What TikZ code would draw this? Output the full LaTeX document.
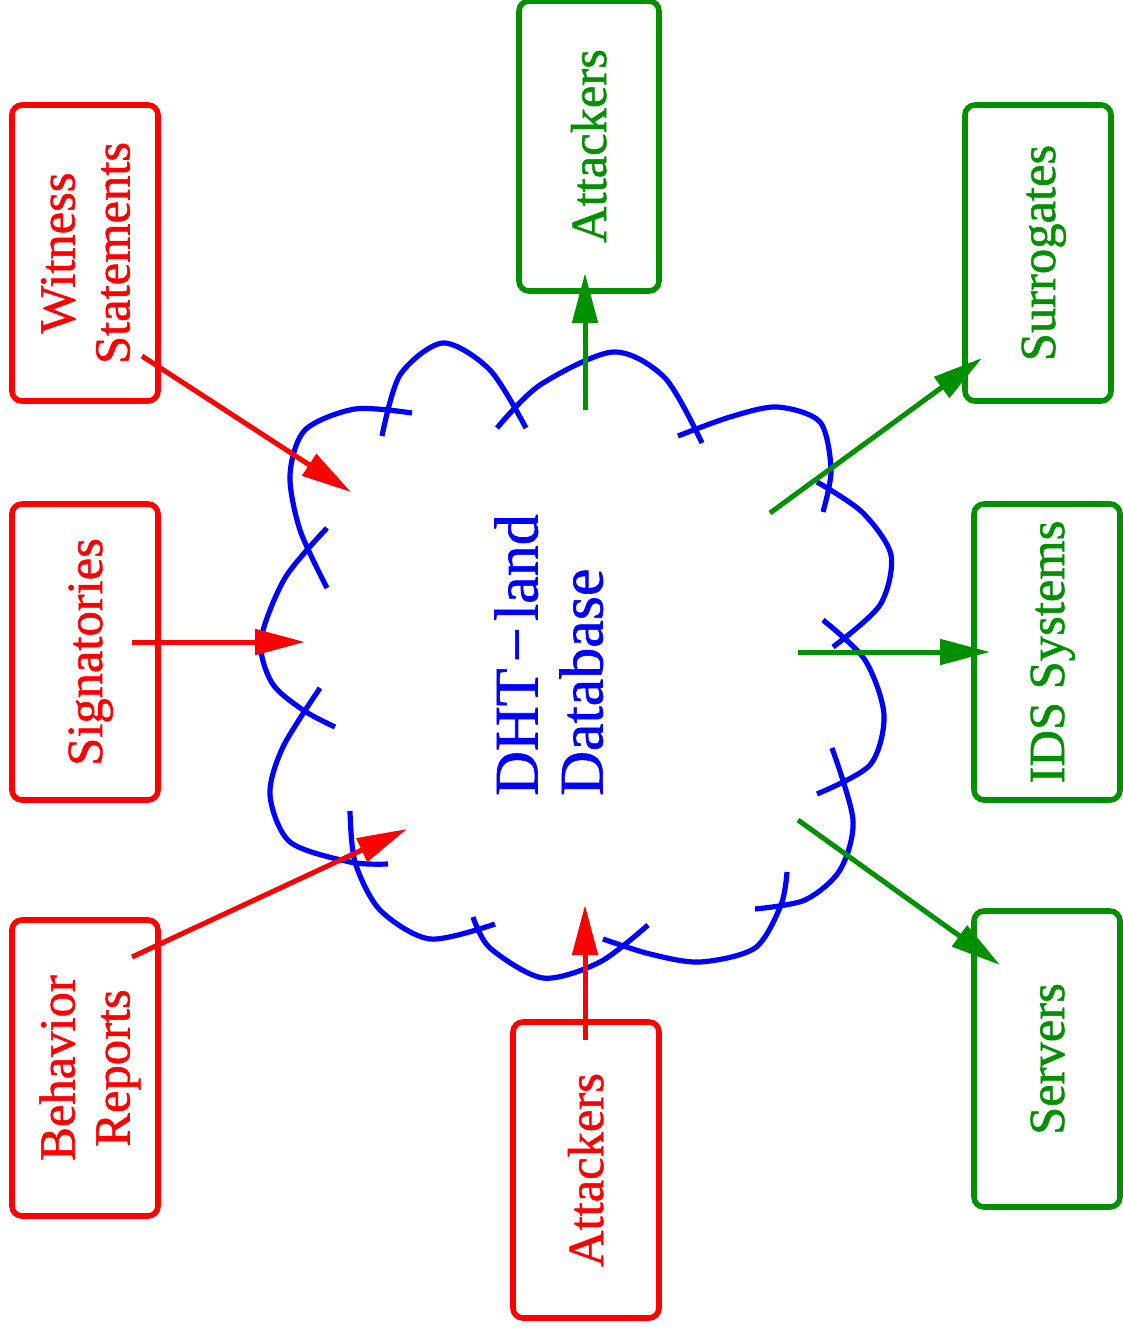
\documentclass[tikz,border=0pt]{standalone}
\usepackage{fontspec}
\setmainfont[FakeBold=1]{Liberation Serif}
\usetikzlibrary{arrows.meta}
\definecolor{figgreen}{RGB}{0,144,0}
\newcommand{\sidetext}[1]{\rotatebox{90}{\raisebox{-3pt}[\height][\depth]{\begin{tabular}{@{}c@{}}#1\end{tabular}}}}
\tikzstyle{redbox} = [rectangle, rounded corners=5pt, minimum width=73pt, minimum height=148pt, draw=red, line width=2.8pt, text=red, font=\fontsize{25.3}{27.5}\selectfont]
\tikzstyle{greenbox} = [rectangle, rounded corners=5pt, minimum width=73pt, minimum height=148pt, draw=figgreen, line width=2.8pt, text=figgreen, font=\fontsize{25.3}{27.5}\selectfont]
\tikzstyle{cloudline} = [draw=blue, line width=2.6pt]
\tikzstyle{redarrow} = [color=red, line width=2.5pt, -{Triangle[length=25pt,width=12.5pt]}]
\tikzstyle{greenarrow} = [color=figgreen, line width=2.5pt, -{Triangle[length=25pt,width=12.5pt]}]

\begin{document}
\begin{tikzpicture}[x=0.5pt, y=-0.5pt]
	\useasboundingbox (0,0) rectangle (1123,1333);
	% cloud
	\draw [cloudline] plot[smooth] coordinates {(382,436) (400,375) (443,343) (490,370) (526,428)};
	\draw [cloudline] plot[smooth] coordinates {(497,428) (540,385) (613,352) (665,378) (702,443)};
	\draw [cloudline] plot[smooth] coordinates {(678,436) (730,417) (777,407) (820,422) (831,470) (823,512)};
	\draw [cloudline] plot[smooth] coordinates {(817,482) (862,512) (891,555) (880,605) (833,647)};
	\draw [cloudline] plot[smooth] coordinates {(823,620) (865,660) (884,715) (870,765) (817,794)};
	\draw [cloudline] plot[smooth] coordinates {(832,748) (853,820) (840,870) (805,900) (755,909)};
	\draw [cloudline] plot[smooth] coordinates {(787,872) (781,905) (755,948) (700,962) (650,954) (603,939)};
	\draw [cloudline] plot[smooth] coordinates {(648,925) (600,962) (543,978) (490,948) (473,917)};
	\draw [cloudline] plot[smooth] coordinates {(495,924) (430,939) (380,910) (355,862) (350,811)};
	\draw [cloudline] plot[smooth] coordinates {(388,864) (350,862) (290,842) (270,795) (283,747) (320,688)};
	\draw [cloudline] plot[smooth] coordinates {(335,727) (303,710) (272,683) (261,640) (285,578) (327,528)};
	\draw [cloudline] plot[smooth] coordinates {(327,588) (300,530) (290,475) (305,430) (355,409) (412,413)};
	\node (db) [text=blue, font=\fontsize{31}{32.5}\selectfont] at (557,655) {\rotatebox{90}{\begin{tabular}{@{}l@{}}DHT\hspace{0.1em}−\hspace{0.1em}land\\Database\end{tabular}}};

	\node (wit) [redbox] at (85,253) {\sidetext{Witness\\Statements}};
	\node (sig) [redbox] at (85,652) {\sidetext{Signatories}};
	\node (beh) [redbox] at (85,1068) {\sidetext{Behavior\\Reports}};
	\node (atkin) [redbox] at (586,1170) {\sidetext{Attackers}};
	\node (atkout) [greenbox, minimum width=70pt, minimum height=145pt] at (589,146) {\sidetext{Attackers}};
	\node (sur) [greenbox] at (1038,253) {\sidetext{Surrogates}};
	\node (ids) [greenbox] at (1047,652) {\sidetext{IDS Systems}};
	\node (srv) [greenbox] at (1047,1059) {\sidetext{Servers}};

	\coordinate (witend) at (351,492);
	\coordinate (sigend) at (305,642);
	\coordinate (behend) at (407,829);
	\coordinate (atkinend) at (585,905);
	\coordinate (atkoutstart) at (585,410);
	\coordinate (surstart) at (770,513);
	\coordinate (idsstart) at (798,652);
	\coordinate (srvstart) at (798,820);

	\draw [redarrow] ([shift={(57,103)}]wit.center) -- (witend);
	\draw [redarrow] ([shift={(47,-10)}]sig.center) -- (sigend);
	\draw [redarrow] ([shift={(47,-111)}]beh.center) -- (behend);
	\draw [redarrow] ([shift={(-1,-130)}]atkin.center) -- (atkinend);
	\draw [greenarrow] (atkoutstart) -- ([shift={(-4,127)}]atkout.center);
	\draw [greenarrow] (surstart) -- ([shift={(-56,105)}]sur.center);
	\draw [greenarrow] (idsstart) -- ([shift={(-57,0)}]ids.center);
	\draw [greenarrow] (srvstart) -- ([shift={(-47,-94)}]srv.center);
\end{tikzpicture}
\end{document}
